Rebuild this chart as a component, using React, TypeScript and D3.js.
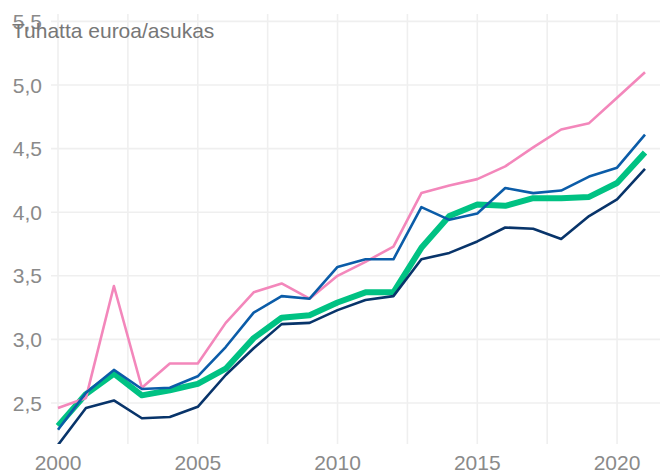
import React, { useEffect, useRef } from "react";
import * as d3 from "d3";

const years = d3.range(2000, 2022);

const pinkValues = [2.46, 2.54, 3.42, 2.62, 2.81, 2.81, 3.13, 3.37, 3.44, 3.32, 3.5, 3.61, 3.73, 4.15, 4.21, 4.26, 4.36, 4.51, 4.65, 4.7, 4.9, 5.1];
const blueValues = [2.29, 2.58, 2.76, 2.61, 2.62, 2.71, 2.94, 3.21, 3.34, 3.32, 3.57, 3.63, 3.63, 4.04, 3.94, 3.99, 4.19, 4.15, 4.17, 4.28, 4.35, 4.61];
const greenValues = [2.32, 2.57, 2.73, 2.56, 2.6, 2.65, 2.77, 3.01, 3.17, 3.19, 3.29, 3.37, 3.37, 3.72, 3.97, 4.06, 4.05, 4.11, 4.11, 4.12, 4.23, 4.47];
const navyValues = [2.17, 2.46, 2.52, 2.38, 2.39, 2.47, 2.72, 2.93, 3.12, 3.13, 3.23, 3.31, 3.34, 3.63, 3.68, 3.77, 3.88, 3.87, 3.79, 3.97, 4.1, 4.34];

const yTicks = [2.5, 3.0, 3.5, 4.0, 4.5, 5.0, 5.5];
const xTicks = [2000, 2005, 2010, 2015, 2020];
const xMinor = [2002.5, 2007.5, 2012.5, 2017.5];

const yLabel = "Tuhatta euroa/asukas";

export default function App() {
  const ref = useRef<SVGSVGElement>(null);

  useEffect(() => {
    const width = 665;
    const height = 476;
    const panel = { left: 51, right: 660, top: 14, bottom: 444 };

    const x = d3.scaleLinear().domain([2000, 2021]).range([58, 645]);
    const y = d3.scaleLinear().domain([2.5, 5.0]).range([403, 85]);

    const svg = d3.select(ref.current);
    svg.selectAll("*").remove();
    svg.attr("width", width).attr("height", height);

    svg
      .append("defs")
      .append("clipPath")
      .attr("id", "panel-clip")
      .append("rect")
      .attr("x", panel.left)
      .attr("y", panel.top)
      .attr("width", panel.right - panel.left)
      .attr("height", panel.bottom - panel.top);

    // gridlines
    const grid = svg.append("g").attr("stroke", "#efefef").attr("stroke-width", 1.6);
    grid
      .selectAll("line.h")
      .data(yTicks)
      .enter()
      .append("line")
      .attr("x1", panel.left)
      .attr("x2", panel.right)
      .attr("y1", (d) => y(d))
      .attr("y2", (d) => y(d));
    grid
      .selectAll("line.v")
      .data([...xTicks, ...xMinor])
      .enter()
      .append("line")
      .attr("x1", (d) => x(d))
      .attr("x2", (d) => x(d))
      .attr("y1", panel.top)
      .attr("y2", panel.bottom);

    // tick labels
    const font = "'Liberation Sans', Arial, sans-serif";
    svg
      .append("g")
      .selectAll("text")
      .data(yTicks)
      .enter()
      .append("text")
      .attr("x", 42)
      .attr("y", (d) => y(d))
      .attr("dy", "0.36em")
      .attr("text-anchor", "end")
      .attr("font-family", font)
      .attr("font-size", 21)
      .attr("fill", "#8a8a8a")
      .text((d) => d3.format(".1f")(d).replace(".", ","));

    svg
      .append("g")
      .selectAll("text")
      .data(xTicks)
      .enter()
      .append("text")
      .attr("x", (d) => x(d))
      .attr("y", 470)
      .attr("text-anchor", "middle")
      .attr("font-family", font)
      .attr("font-size", 21)
      .attr("fill", "#8a8a8a")
      .text((d) => String(d));

    // lines
    const line = d3
      .line<number>()
      .x((_, i) => x(years[i]))
      .y((d) => y(d));

    const series = [
      { values: greenValues, color: "#00c283", width: 6 },
      { values: pinkValues, color: "#f387bb", width: 2.6 },
      { values: blueValues, color: "#0b5ca8", width: 2.6 },
      { values: navyValues, color: "#08346a", width: 2.6 },
    ];

    const lines = svg.append("g").attr("clip-path", "url(#panel-clip)");
    lines
      .selectAll("path")
      .data(series)
      .enter()
      .append("path")
      .attr("d", (d) => line(d.values))
      .attr("fill", "none")
      .attr("stroke", (d) => d.color)
      .attr("stroke-width", (d) => d.width)
      .attr("stroke-linejoin", "round");

    // title
    svg
      .append("text")
      .attr("x", 12)
      .attr("y", 38)
      .attr("font-family", font)
      .attr("font-size", 21)
      .attr("fill", "#777777")
      .text(yLabel);
  }, []);

  return (
    <div style={{ position: "absolute", left: 0, top: 0 }}>
      <svg ref={ref} style={{ display: "block", background: "#ffffff" }} />
    </div>
  );
}
